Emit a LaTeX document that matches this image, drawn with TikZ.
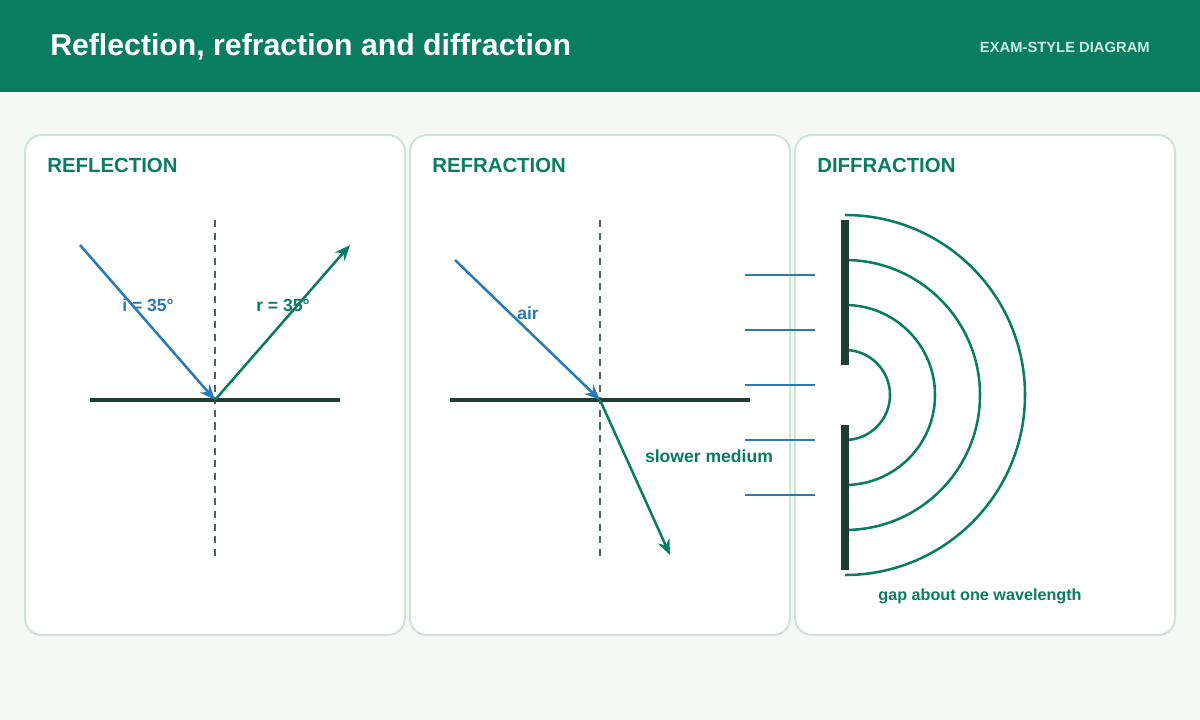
\documentclass[tikz,border=0pt]{standalone}
\usepackage{fontspec}
\setmainfont{Liberation Sans}
\usetikzlibrary{arrows.meta}
\definecolor{hdr}{HTML}{0A7C5F}
\definecolor{bg}{HTML}{F5F9F6}
\definecolor{pb}{HTML}{CFE3DB}
\definecolor{blu}{HTML}{2A7AB8}
\definecolor{grn}{HTML}{0A7C5F}
\definecolor{drk}{HTML}{1F3D33}
\definecolor{tagc}{HTML}{CDEBDF}
\begin{document}
\begin{tikzpicture}[x=0.025cm,y=-0.025cm,
  panel/.style={draw=pb,line width=1.4pt,fill=white,rounded corners=12pt},
  ptitle/.style={anchor=west,inner sep=0pt,text=grn,font=\bfseries\fontsize{14.5}{16}\selectfont},
  lab/.style={font=\bfseries\fontsize{12.5}{14}\selectfont},
  ray/.style={line width=1.8pt,-{Stealth[length=11pt,width=9pt]}},
  surf/.style={draw=drk,line width=2.2pt},
  norm/.style={draw=drk!80,line width=1pt,dash pattern=on 5pt off 4pt},
  wave/.style={draw=blu,line width=1.6pt},
  arc/.style={draw=grn,line width=1.8pt}]
\useasboundingbox (0,0) rectangle (1200,720);
\fill[bg] (0,0) rectangle (1200,720);
\fill[hdr] (0,0) rectangle (1200,92);
\node[anchor=west,inner sep=0pt,text=white,font=\bfseries\fontsize{21.5}{24}\selectfont] (title) at (50,47) {Reflection, refraction and diffraction};
\node[anchor=east,inner sep=0pt,text=tagc,font=\bfseries\fontsize{10.5}{12}\selectfont] (tag) at (1150,47) {EXAM-STYLE DIAGRAM};
\draw[panel] (25,135) rectangle (405,635);
\draw[panel] (410,135) rectangle (790,635);
\draw[panel] (795,135) rectangle (1175,635);
\node[ptitle] (t1) at (47,165) {REFLECTION};
\node[ptitle] (t2) at (432,165) {REFRACTION};
\node[ptitle] (t3) at (817,165) {DIFFRACTION};
% reflection
\coordinate (n1a) at (215,220); \coordinate (n1b) at (215,560);
\draw[norm] (n1a) -- (n1b);
\coordinate (s1a) at (90,400); \coordinate (s1b) at (340,400);
\draw[surf] (s1a) -- (s1b);
\coordinate (i1) at (80,245); \coordinate (p1) at (215,400); \coordinate (r1) at (350,245);
\draw[ray,blu] (i1) -- (p1);
\draw[ray,grn] (p1) -- (r1);
\node[lab,text=blu] (li) at (148,305) {i = 35°};
\node[lab,text=grn] (lr) at (283,305) {r = 35°};
% refraction
\coordinate (n2a) at (600,220); \coordinate (n2b) at (600,560);
\draw[norm] (n2a) -- (n2b);
\coordinate (s2a) at (450,400); \coordinate (s2b) at (750,400);
\draw[surf] (s2a) -- (s2b);
\coordinate (i2) at (455,260); \coordinate (p2) at (600,400); \coordinate (r2) at (670,555);
\draw[ray,blu] (i2) -- (p2);
\draw[ray,grn] (p2) -- (r2);
\node[lab,text=blu] (la) at (528,313) {air};
\node[lab,text=grn] (ls) at (709,456) {slower medium};
% diffraction
\foreach \y in {275,330,385,440,495}{\draw[wave] (745,\y) -- (815,\y);}
\coordinate (c) at (845,395);
\foreach \r in {45,90,135,180}{\draw[arc] (845,395-\r) arc[start angle=-90,end angle=90,radius=\r];}
\fill[drk] (841,220) rectangle (849,365);
\fill[drk] (841,425) rectangle (849,570);
\node[lab,text=grn,font=\bfseries\fontsize{11.5}{13}\selectfont] (lg) at (980,596) {gap about one wavelength};
\end{tikzpicture}
\end{document}
